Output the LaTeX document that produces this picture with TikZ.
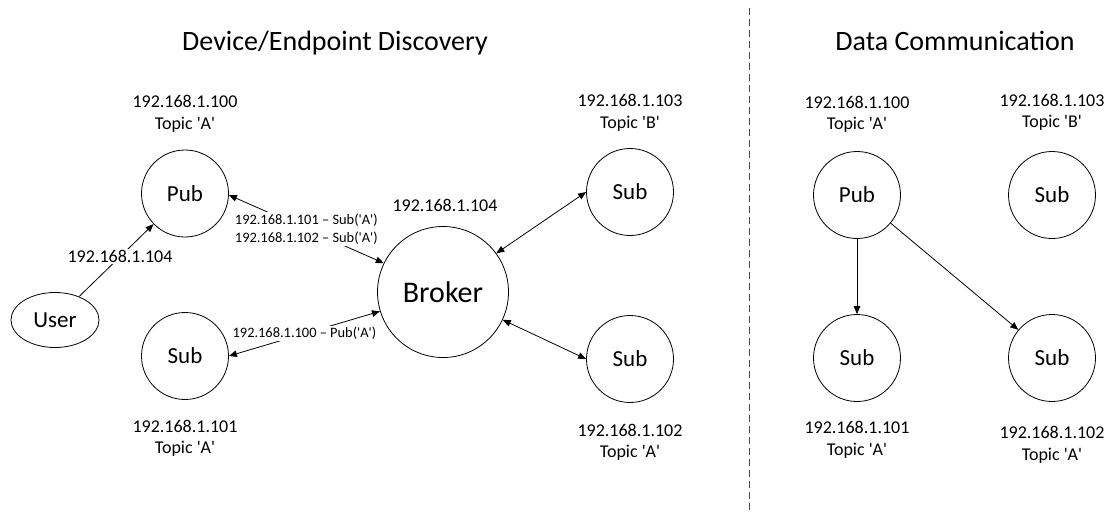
\documentclass[tikz,border=0pt]{standalone}
\usepackage{fontspec}
\setmainfont{Carlito}[Ligatures=TeXOff]
\usetikzlibrary{arrows.meta,shapes.geometric}
\begin{document}
\begin{tikzpicture}[x=1pt,y=-1pt,
  every node/.style={text=black},
  dev/.style={draw, circle, line width=0.8pt, minimum size=87pt, inner sep=0pt,
              font=\fontsize{23}{27}\selectfont},
  hub/.style={dev, minimum size=131pt, font=\fontsize{30}{36}\selectfont},
  info/.style={align=center, inner sep=0pt, font=\fontsize{18}{21.5}\selectfont},
  title/.style={anchor=base, inner sep=0pt, font=\fontsize{28}{34}\selectfont},
  elab/.style={fill=white, inner sep=1.5pt, align=center, font=\fontsize{14.4}{18}\selectfont},
  tip/.style={-{Triangle[length=8pt,width=6.5pt]}, line width=0.8pt},
  both/.style={{Triangle[length=8pt,width=6.5pt]}-{Triangle[length=8pt,width=6.5pt]}, line width=0.8pt},
  divider/.style={draw=black!70, line width=0.9pt, dash pattern=on 7pt off 4pt}
]
\useasboundingbox (0,0) rectangle (1111,514);

% ---------- section titles ----------
\node[title] (t1) at (335,50) {Device/Endpoint Discovery};
\node[title] (t2) at (955,50) {Data Communication};

% ---------- separator ----------
\coordinate (sepTop) at (749,8);
\coordinate (sepBot) at (749,514);
\draw[divider] (sepTop) -- (sepBot);

% ---------- discovery phase ----------
\node[dev] (pubA) at (185,193.5) {Pub};
\node[draw, ellipse, line width=0.8pt, minimum width=88pt, minimum height=55pt, inner sep=0pt,
      font=\fontsize{23}{27}\selectfont] (user) at (55,320) {User};
\node[dev] (subA) at (185,356) {Sub};
\node[hub] (broker) at (443,292) {Broker};
\node[dev] (subB) at (630,192) {Sub};
\node[dev] (subC) at (630,359) {Sub};

\node[info] (pubAinfo) at (185,114) {192.168.1.100\\Topic 'A'};
\node[info] (subAinfo) at (185,438.5) {192.168.1.101\\Topic 'A'};
\node[info] (brokerinfo) at (445,205) {192.168.1.104};
\node[info] (subBinfo) at (630,113) {192.168.1.103\\Topic 'B'};
\node[info] (subCinfo) at (630,442.5) {192.168.1.102\\Topic 'A'};

\draw[tip] (user) -- node[elab, pos=0.55, font=\fontsize{18}{21.5}\selectfont] (userlab) {192.168.1.104} (pubA);
\draw[both] (pubA.-2) -- node[elab] (sublab) {192.168.1.101 – Sub('A')\\192.168.1.102 – Sub('A')} (broker.154);
\draw[both] (subA.east) -- node[elab] (publab) {192.168.1.100 – Pub('A')} (broker.197);
\draw[both] (broker.36) -- (subB.west);
\draw[both] (broker.-25) -- (subC.west);

% ---------- data communication phase ----------
\node[dev] (pubD) at (857,195) {Pub};
\node[dev] (subD) at (1052,195) {Sub};
\node[dev] (subE) at (857,358) {Sub};
\node[dev] (subF) at (1052,358) {Sub};

\node[info] (pubDinfo) at (857,114.5) {192.168.1.100\\Topic 'A'};
\node[info] (subDinfo) at (1052,112.5) {192.168.1.103\\Topic 'B'};
\node[info] (subEinfo) at (857,440) {192.168.1.101\\Topic 'A'};
\node[info] (subFinfo) at (1052,445) {192.168.1.102\\Topic 'A'};

\draw[tip] (pubD) -- (subE);
\draw[tip] (pubD) -- (subF);
\end{tikzpicture}
\end{document}
